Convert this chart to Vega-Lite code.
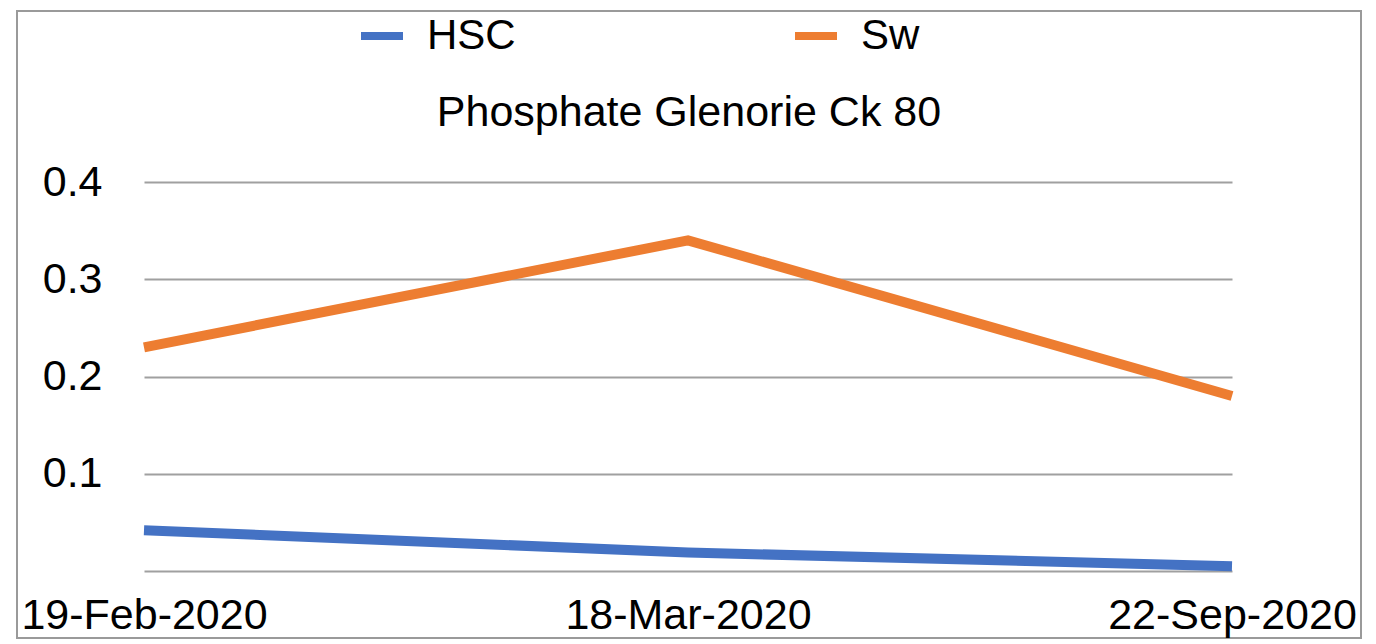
{
  "$schema": "https://vega.github.io/schema/vega-lite/v6.json",
  "autosize": {"type": "none"},
  "width": 1344,
  "height": 627,
  "padding": {"left": 17, "top": 11, "right": 15, "bottom": 6},
  "background": "white",
  "config": {
    "font": "Liberation Sans",
    "view": {"stroke": "#9a9a9a", "strokeWidth": 2}
  },
  "title": {
    "text": "Phosphate Glenorie Ck 80",
    "fontSize": 43,
    "fontWeight": "normal",
    "color": "black",
    "anchor": "middle",
    "frame": "group",
    "baseline": "alphabetic",
    "offset": -158
  },
  "data": {
    "values": [
      {"date": "19-Feb-2020", "series": "HSC", "value": 0.042},
      {"date": "18-Mar-2020", "series": "HSC", "value": 0.019},
      {"date": "22-Sep-2020", "series": "HSC", "value": 0.005},
      {"date": "19-Feb-2020", "series": "Sw", "value": 0.23},
      {"date": "18-Mar-2020", "series": "Sw", "value": 0.34},
      {"date": "22-Sep-2020", "series": "Sw", "value": 0.18}
    ]
  },
  "mark": {"type": "line", "strokeWidth": 10, "strokeJoin": "miter", "strokeCap": "butt"},
  "encoding": {
    "x": {
      "field": "date",
      "type": "ordinal",
      "sort": null,
      "scale": {"type": "point", "range": [127, 1215], "padding": 0},
      "axis": {
        "title": null,
        "domain": false,
        "ticks": false,
        "tickSize": 0,
        "grid": false,
        "labelAngle": 0,
        "labelFontSize": 43,
        "labelColor": "black",
        "labelBaseline": "alphabetic",
        "labelPadding": -10,
        "labelOverlap": false,
        "labelLimit": 0
      }
    },
    "y": {
      "field": "value",
      "type": "quantitative",
      "scale": {"domain": [0, 0.4], "range": [560, 171], "nice": false, "zero": false},
      "axis": {
        "title": null,
        "values": [0, 0.1, 0.2, 0.3, 0.4],
        "format": ".1f",
        "labelExpr": "datum.value == 0 ? '' : datum.label",
        "domain": false,
        "ticks": false,
        "tickSize": 0,
        "grid": true,
        "gridColor": "#a0a0a0",
        "gridWidth": 2,
        "gridOpacity": 1,
        "offset": -85,
        "labelPadding": 0,
        "labelFontSize": 43,
        "labelColor": "black"
      }
    },
    "color": {
      "field": "series",
      "type": "nominal",
      "scale": {"domain": ["HSC", "Sw"], "range": ["#4472C4", "#ED7D31"]},
      "legend": {
        "title": null,
        "orient": "none",
        "direction": "horizontal",
        "legendX": 340,
        "legendY": 0,
        "padding": 0,
        "symbolType": "stroke",
        "symbolSize": 1764,
        "symbolStrokeWidth": 8,
        "labelOffset": 20,
        "columnPadding": 263,
        "labelFontSize": 42,
        "labelColor": "black"
      }
    }
  }
}
